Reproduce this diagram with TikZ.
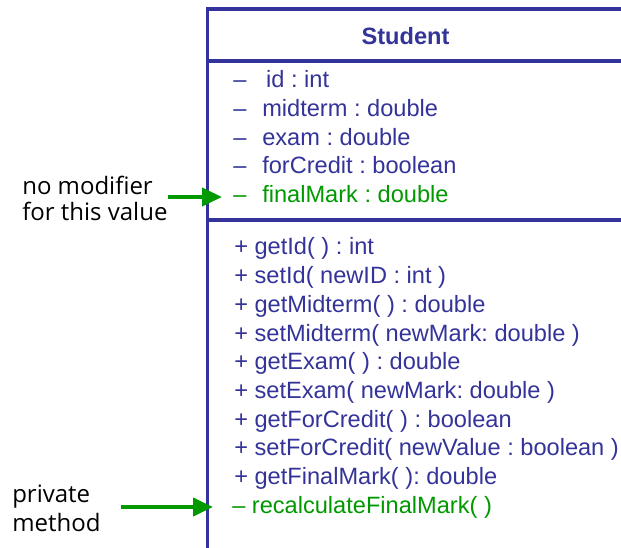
\documentclass[tikz,border=0pt]{standalone}
\usepackage{fontspec}
\setmainfont{Liberation Sans}
\newfontfamily\notefont{Open Sans}
\usetikzlibrary{arrows.meta}
\frenchspacing

\definecolor{umlblue}{RGB}{51,51,153}
\definecolor{notegreen}{RGB}{0,153,0}

\newcommand{\priv}[1]{\makebox[21.75pt][l]{--}#1}

\tikzset{
  member/.style={anchor=base west, inner sep=0pt, text=umlblue, font=\fontsize{17.7}{20}\selectfont},
  hidden/.style={member, text=notegreen},
  notetext/.style={anchor=base west, inner sep=0pt, font=\notefont\fontsize{18}{20}\selectfont},
  notearrow/.style={draw=notegreen, line width=3pt, -{Triangle[length=15pt,width=13.5pt]}},
  umlline/.style={draw=umlblue, line width=2.8pt},
}

\begin{document}
\begin{tikzpicture}[x=0.75pt,y=-0.75pt]

        \useasboundingbox (0,0) rectangle (621,548);

        % class box
        \draw[umlline] (621,9) -- (207.5,9) -- (207.5,548);
        \draw[umlline] (207.5,61) -- (621,61);
        \draw[umlline] (207.5,220) -- (621,220);

        \node[member, anchor=base, font=\fontsize{17.7}{20}\selectfont\bfseries] (title) at (405.5,45) {Student};

        % attributes
        \node[member] (id) at (233,88) {\priv{\,id : int}};
        \node[member] (midterm) at (233,116.7) {\priv{midterm : double}};
        \node[member] (exam) at (233,145.4) {\priv{exam : double}};
        \node[member] (forcredit) at (233,174) {\priv{forCredit : boolean}};
        \node[hidden] (finalmark) at (233,202.8) {\priv{finalMark : double}};

        % methods
        \node[member] (getid) at (234,255) {+ getId( ) : int};
        \node[member] (setid) at (234,283.7) {+ setId( newID : int )};
        \node[member] (getmid) at (234,312.4) {+ getMidterm( ) : double};
        \node[member] (setmid) at (234,341.1) {+ setMidterm( newMark: double )};
        \node[member] (getexam) at (234,369.8) {+ getExam( ) : double};
        \node[member] (setexam) at (234,398.5) {+ setExam( newMark: double )};
        \node[member] (getcredit) at (234,427.2) {+ getForCredit( ) : boolean};
        \node[member] (setcredit) at (234,455.9) {+ setForCredit( newValue : boolean )};
        \node[member] (getfinal) at (234,484.6) {+ getFinalMark( ): double};
        \node[hidden] (recalc) at (232,513.3) {-- recalculateFinalMark( )};

        % notes
        \node[notetext] (nomod) at (22,195) {no modifier};
        \node[notetext] (thisval) at (22,221) {for this value};
        \node[notetext] (private) at (12,503) {private};
        \node[notetext] (method) at (12,532) {method};

        \coordinate (tip1) at (222,197);
        \coordinate (tip2) at (213,507);
        \draw[notearrow] (thisval.east |- tip1) -- (tip1);
        \draw[notearrow, shorten <=15pt] (method.east |- tip2) -- (tip2);

\end{tikzpicture}
\end{document}
